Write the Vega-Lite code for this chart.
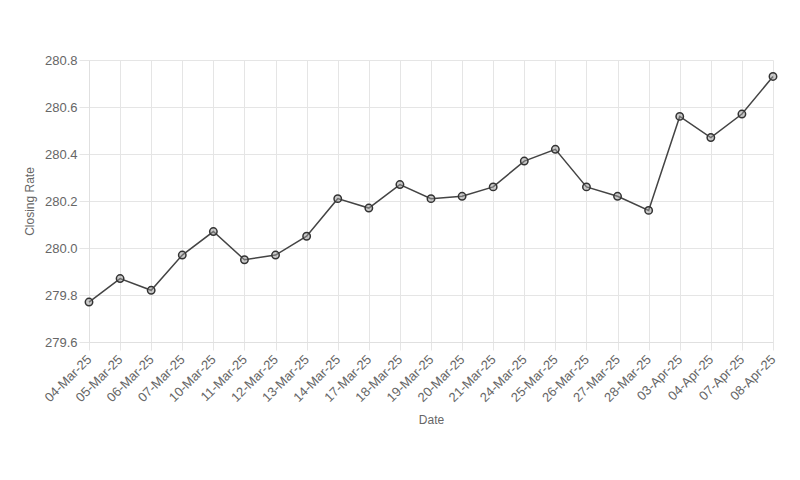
{
  "$schema": "https://vega.github.io/schema/vega-lite/v6.json",
  "width": 684,
  "height": 282,
  "autosize": "none",
  "padding": {"left": 89, "top": 60, "right": 27, "bottom": 138},
  "background": "white",
  "data": {
    "values": [
      {"Date": "04-Mar-25", "Rate": 279.77},
      {"Date": "05-Mar-25", "Rate": 279.87},
      {"Date": "06-Mar-25", "Rate": 279.82},
      {"Date": "07-Mar-25", "Rate": 279.97},
      {"Date": "10-Mar-25", "Rate": 280.07},
      {"Date": "11-Mar-25", "Rate": 279.95},
      {"Date": "12-Mar-25", "Rate": 279.97},
      {"Date": "13-Mar-25", "Rate": 280.05},
      {"Date": "14-Mar-25", "Rate": 280.21},
      {"Date": "17-Mar-25", "Rate": 280.17},
      {"Date": "18-Mar-25", "Rate": 280.27},
      {"Date": "19-Mar-25", "Rate": 280.21},
      {"Date": "20-Mar-25", "Rate": 280.22},
      {"Date": "21-Mar-25", "Rate": 280.26},
      {"Date": "24-Mar-25", "Rate": 280.37},
      {"Date": "25-Mar-25", "Rate": 280.42},
      {"Date": "26-Mar-25", "Rate": 280.26},
      {"Date": "27-Mar-25", "Rate": 280.22},
      {"Date": "28-Mar-25", "Rate": 280.16},
      {"Date": "03-Apr-25", "Rate": 280.56},
      {"Date": "04-Apr-25", "Rate": 280.47},
      {"Date": "07-Apr-25", "Rate": 280.57},
      {"Date": "08-Apr-25", "Rate": 280.73}
    ]
  },
  "config": {
    "view": {"stroke": null},
    "axis": {
      "labelFont": "Liberation Sans",
      "titleFont": "Liberation Sans",
      "labelColor": "#666666",
      "titleColor": "#666666",
      "labelFontSize": 13,
      "titleFontSize": 12,
      "titleFontWeight": "normal",
      "gridColor": "#e5e5e5",
      "domainColor": "#e0e0e0",
      "tickColor": "#e5e5e5",
      "tickSize": 8
    }
  },
  "encoding": {
    "x": {
      "field": "Date",
      "type": "ordinal",
      "sort": null,
      "scale": {"type": "point", "padding": 0},
      "axis": {
        "title": "Date",
        "labelAngle": -45,
        "labelAlign": "right",
        "labelBaseline": "middle",
        "labelPadding": 7,
        "grid": true,
        "titlePadding": 10
      }
    },
    "y": {
      "field": "Rate",
      "type": "quantitative",
      "scale": {"domain": [279.6, 280.8], "zero": false, "nice": false},
      "axis": {
        "title": "Closing Rate",
        "values": [279.6, 279.8, 280.0, 280.2, 280.4, 280.6, 280.8],
        "format": ".1f",
        "tickSize": 10,
        "labelPadding": 2,
        "titlePadding": 8
      }
    }
  },
  "layer": [
    {"mark": {"type": "line", "color": "#444444", "strokeWidth": 1.5}},
    {"mark": {"type": "point", "shape": "circle", "size": 55, "filled": false, "stroke": "#333333", "strokeWidth": 1.5, "fill": "#999999", "fillOpacity": 0.5, "opacity": 1}}
  ]
}
